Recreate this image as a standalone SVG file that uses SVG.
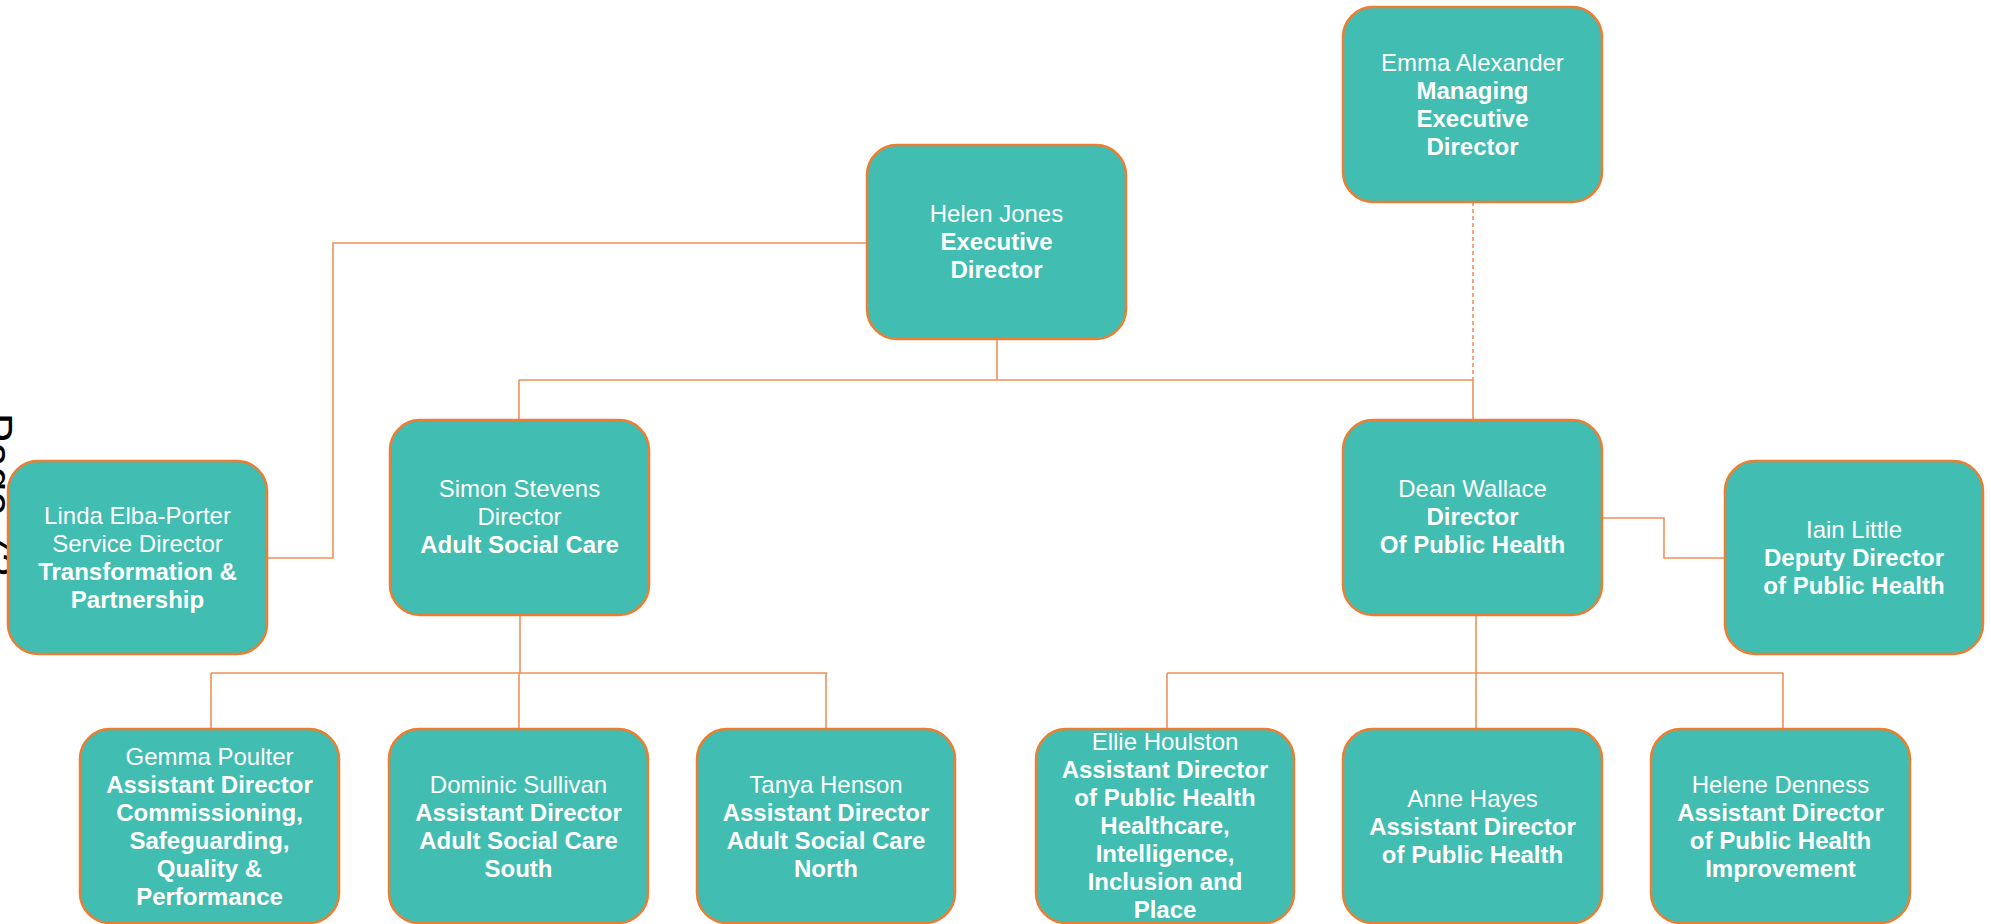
<svg xmlns="http://www.w3.org/2000/svg" width="1991" height="924" viewBox="0 0 1991 924">
  <style>
    .box { fill: #41BDB1; stroke: #ED7D31; stroke-width: 2.5; }
    .lbl { font-family: "Liberation Sans", Arial, sans-serif; font-size: 24px; fill: #FFFFFF; text-anchor: middle; }
    .b { font-weight: bold; }
    .link { fill: none; stroke: #F0915A; stroke-width: 1.6; }
    .dash { stroke-dasharray: 4 3; }
    .page { font-family: "Liberation Sans", Arial, sans-serif; font-size: 44px; fill: #000000; }
  </style>

  <rect x="0" y="0" width="1991" height="924" fill="#FFFFFF"/>

  <!-- page number running down the left margin -->
  <text class="page" transform="translate(-19 413) rotate(90)">Page 72</text>

  <!-- reporting lines -->
  <g id="connectors">
    <path class="link" d="M997 339 V380 M519 380 H1473 M519 380 V420 M1473 380 V420"/>
    <path class="link dash" d="M1473 202 V380"/>
    <path class="link" d="M867 243 H333 V558 H267"/>
    <path class="link" d="M1602 518 H1664 V558 H1725"/>
    <path class="link" d="M520 615 V673 M211 673 H827 M211 673 V729 M519 673 V729 M826 673 V729"/>
    <path class="link" d="M1476 615 V673 M1167 673 H1783 M1167 673 V729 M1476 673 V729 M1783 673 V729"/>
  </g>

  <g id="emma-alexander">
    <rect class="box" x="1343" y="7" width="259" height="195" rx="30"/>
    <text class="lbl" x="1472.5" y="71">Emma Alexander</text>
    <text class="lbl b" x="1472.5" y="99">Managing</text>
    <text class="lbl b" x="1472.5" y="127">Executive</text>
    <text class="lbl b" x="1472.5" y="155">Director</text>
  </g>

  <g id="helen-jones">
    <rect class="box" x="867" y="145" width="259" height="194" rx="30"/>
    <text class="lbl" x="996.5" y="222">Helen Jones</text>
    <text class="lbl b" x="996.5" y="250">Executive</text>
    <text class="lbl b" x="996.5" y="278">Director</text>
  </g>

  <g id="linda-elba-porter">
    <rect class="box" x="8" y="461" width="259" height="193" rx="30"/>
    <text class="lbl" x="137.5" y="524">Linda Elba-Porter</text>
    <text class="lbl" x="137.5" y="552">Service Director</text>
    <text class="lbl b" x="137.5" y="580">Transformation &amp;</text>
    <text class="lbl b" x="137.5" y="608">Partnership</text>
  </g>

  <g id="simon-stevens">
    <rect class="box" x="390" y="420" width="259" height="195" rx="30"/>
    <text class="lbl" x="519.5" y="497">Simon Stevens</text>
    <text class="lbl" x="519.5" y="525">Director</text>
    <text class="lbl b" x="519.5" y="553">Adult Social Care</text>
  </g>

  <g id="dean-wallace">
    <rect class="box" x="1343" y="420" width="259" height="195" rx="30"/>
    <text class="lbl" x="1472.5" y="497">Dean Wallace</text>
    <text class="lbl b" x="1472.5" y="525">Director</text>
    <text class="lbl b" x="1472.5" y="553">Of Public Health</text>
  </g>

  <g id="iain-little">
    <rect class="box" x="1725" y="461" width="258" height="193" rx="30"/>
    <text class="lbl" x="1854" y="538">Iain Little</text>
    <text class="lbl b" x="1854" y="566">Deputy Director</text>
    <text class="lbl b" x="1854" y="594">of Public Health</text>
  </g>

  <g id="gemma-poulter">
    <rect class="box" x="80" y="729" width="259" height="194" rx="30"/>
    <text class="lbl" x="209.5" y="765">Gemma Poulter</text>
    <text class="lbl b" x="209.5" y="793">Assistant Director</text>
    <text class="lbl b" x="209.5" y="821">Commissioning,</text>
    <text class="lbl b" x="209.5" y="849">Safeguarding,</text>
    <text class="lbl b" x="209.5" y="877">Quality &amp;</text>
    <text class="lbl b" x="209.5" y="905">Performance</text>
  </g>

  <g id="dominic-sullivan">
    <rect class="box" x="389" y="729" width="259" height="194" rx="30"/>
    <text class="lbl" x="518.5" y="793">Dominic Sullivan</text>
    <text class="lbl b" x="518.5" y="821">Assistant Director</text>
    <text class="lbl b" x="518.5" y="849">Adult Social Care</text>
    <text class="lbl b" x="518.5" y="877">South</text>
  </g>

  <g id="tanya-henson">
    <rect class="box" x="697" y="729" width="258" height="194" rx="30"/>
    <text class="lbl" x="826" y="793">Tanya Henson</text>
    <text class="lbl b" x="826" y="821">Assistant Director</text>
    <text class="lbl b" x="826" y="849">Adult Social Care</text>
    <text class="lbl b" x="826" y="877">North</text>
  </g>

  <g id="ellie-houlston">
    <rect class="box" x="1036" y="729" width="258" height="194" rx="30"/>
    <text class="lbl" x="1165" y="750">Ellie Houlston</text>
    <text class="lbl b" x="1165" y="778">Assistant Director</text>
    <text class="lbl b" x="1165" y="806">of Public Health</text>
    <text class="lbl b" x="1165" y="834">Healthcare,</text>
    <text class="lbl b" x="1165" y="862">Intelligence,</text>
    <text class="lbl b" x="1165" y="890">Inclusion and</text>
    <text class="lbl b" x="1165" y="918">Place</text>
  </g>

  <g id="anne-hayes">
    <rect class="box" x="1343" y="729" width="259" height="194" rx="30"/>
    <text class="lbl" x="1472.5" y="807">Anne Hayes</text>
    <text class="lbl b" x="1472.5" y="835">Assistant Director</text>
    <text class="lbl b" x="1472.5" y="863">of Public Health</text>
  </g>

  <g id="helene-denness">
    <rect class="box" x="1651" y="729" width="259" height="194" rx="30"/>
    <text class="lbl" x="1780.5" y="793">Helene Denness</text>
    <text class="lbl b" x="1780.5" y="821">Assistant Director</text>
    <text class="lbl b" x="1780.5" y="849">of Public Health</text>
    <text class="lbl b" x="1780.5" y="877">Improvement</text>
  </g>
</svg>
